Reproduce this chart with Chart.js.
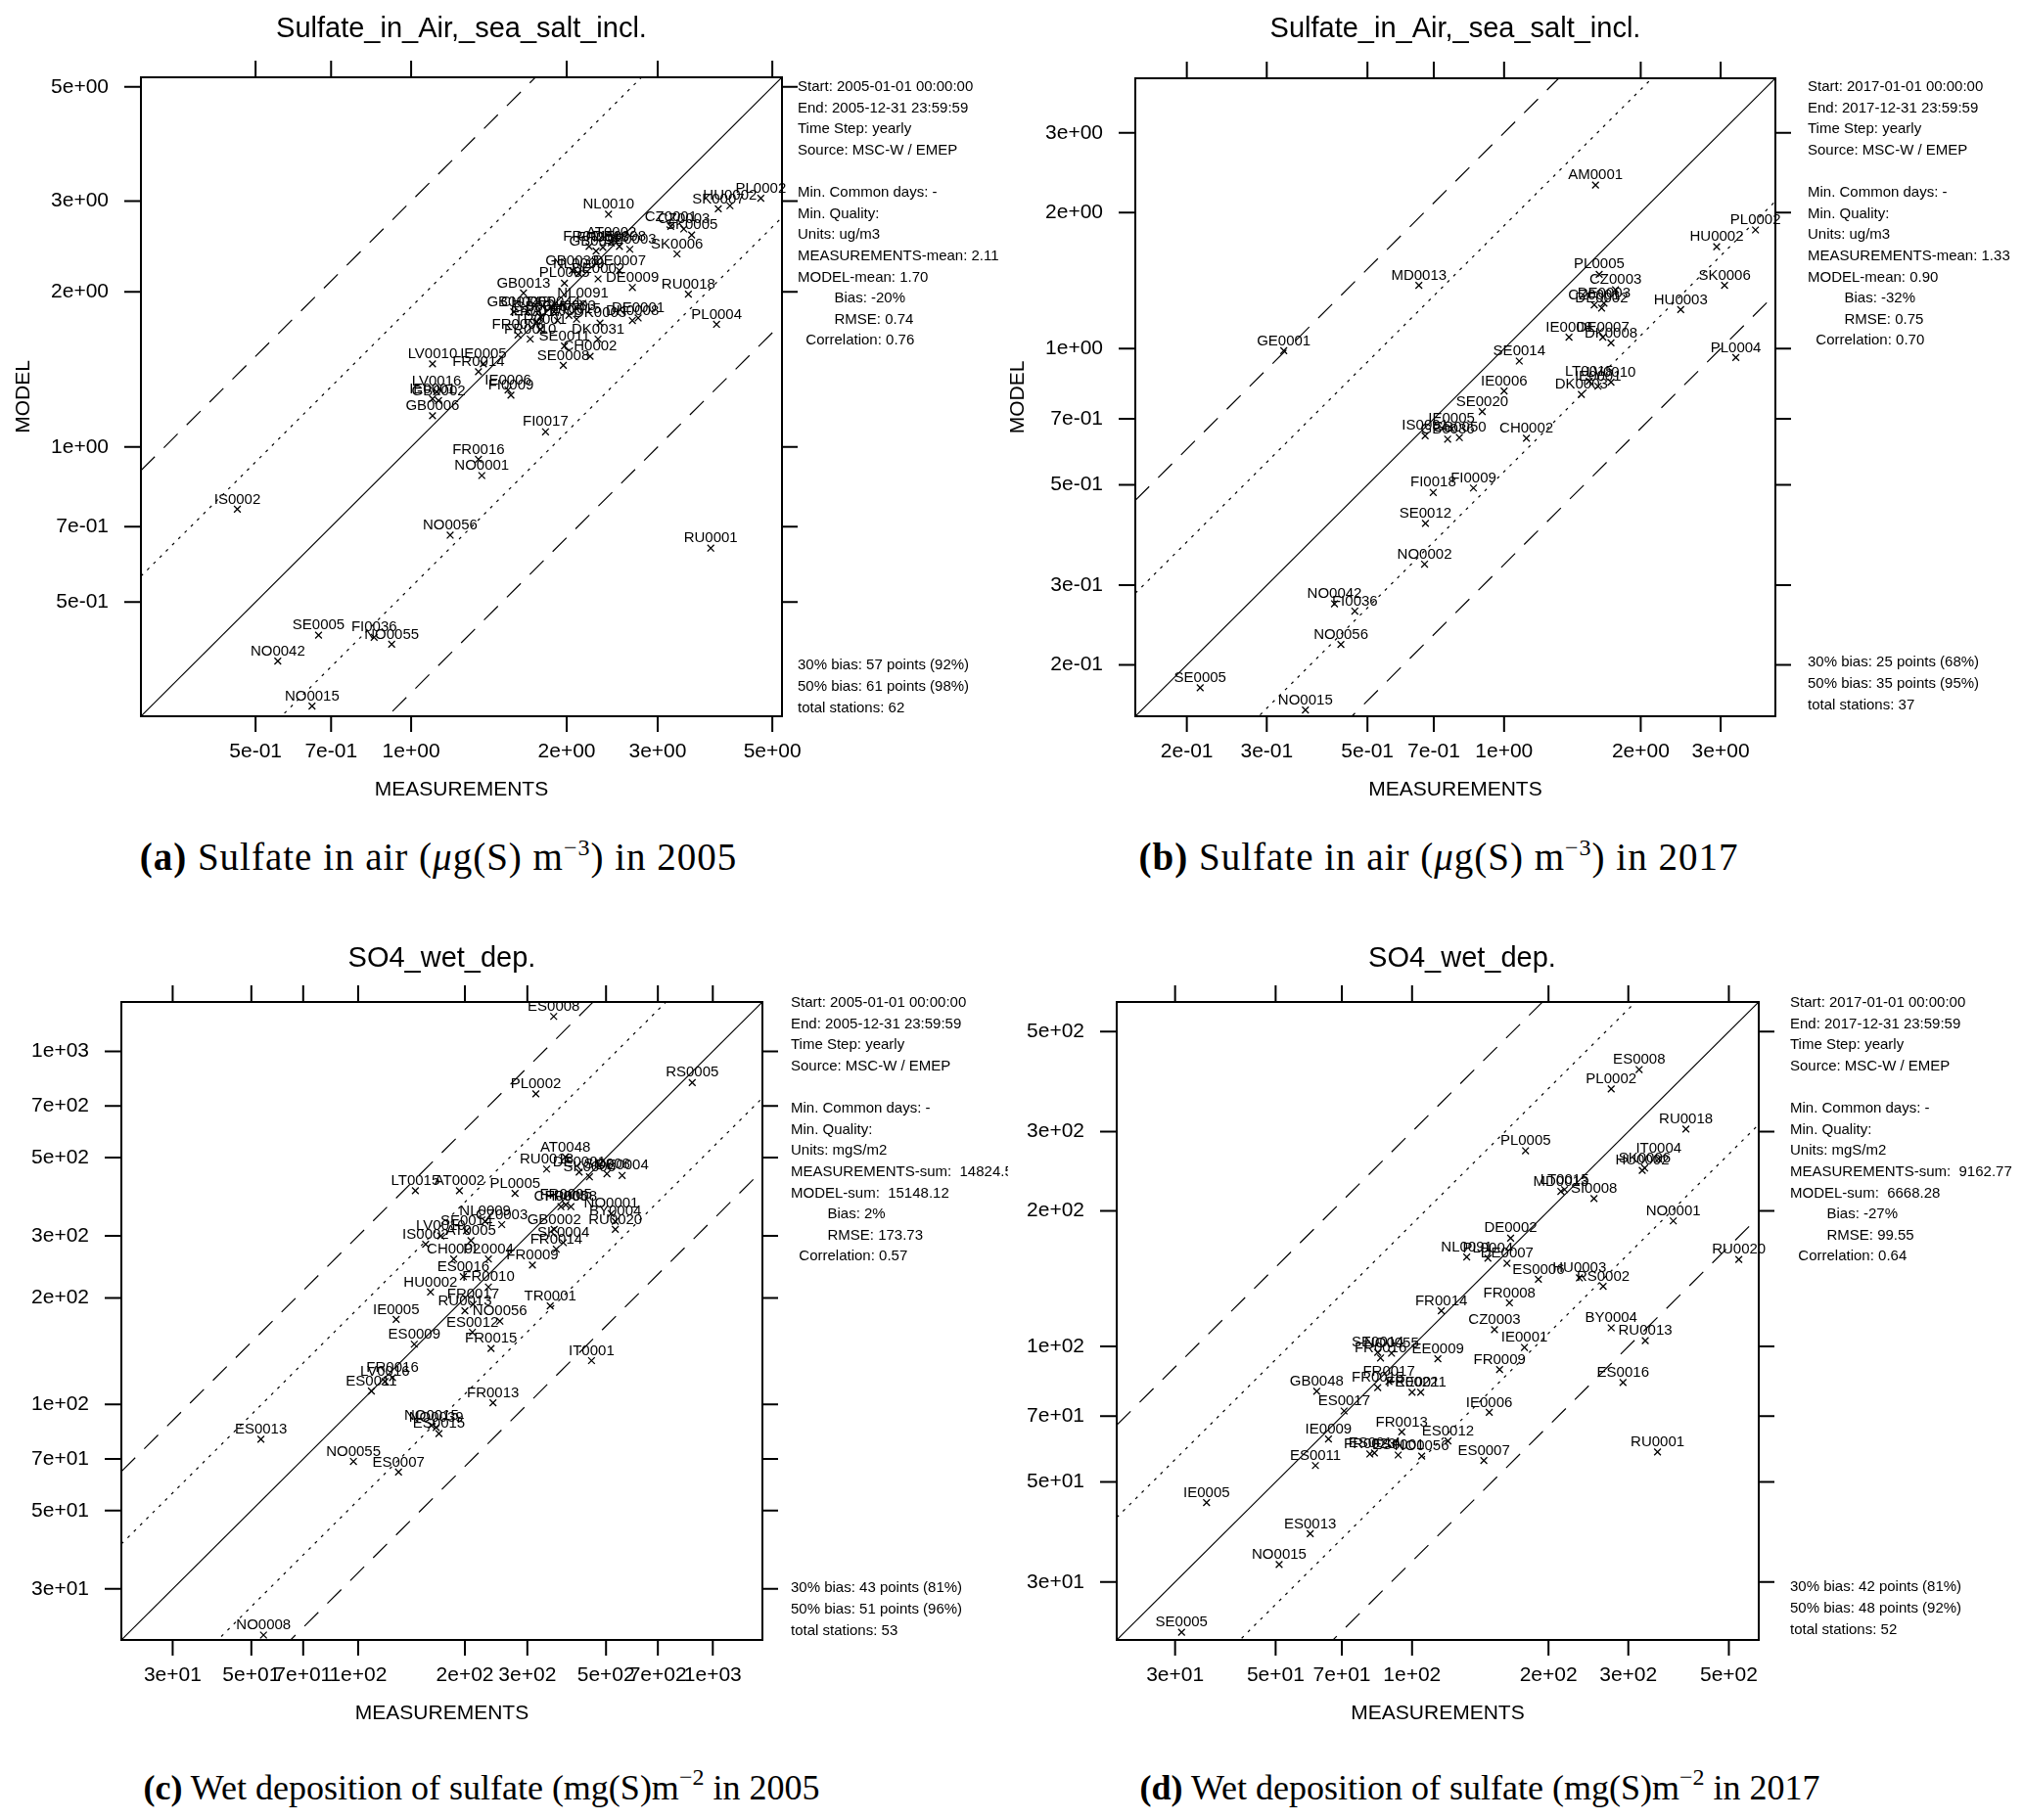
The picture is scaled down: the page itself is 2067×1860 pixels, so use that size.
<!DOCTYPE html>
<html>
<head>
<meta charset="utf-8">
<script src="https://cdn.jsdelivr.net/npm/chart.js@4.4.0/dist/chart.umd.min.js"></script>
<style>
body { margin: 0; background: #fff; }
#page { position: relative; width: 2067px; height: 1860px; overflow: hidden; background: #fff; }
canvas { position: absolute; }
.cap { position: absolute; width: 1000px; text-align: center; font-family: "Liberation Serif", "Times New Roman", serif;
       font-size: 36px; line-height: 44px; color: #000; white-space: nowrap; }
.cap.wide { font-size: 39px; letter-spacing: 1px; }
.cap sup { font-size: 24px; line-height: 0; vertical-align: 15px; }
</style>
</head>
<body>
<div id="page">
  <canvas id="pa" width="1030" height="840" style="left:0;top:0;width:1030px;height:840px"></canvas>
  <canvas id="pb" width="1037" height="840" style="left:1030px;top:0;width:1037px;height:840px"></canvas>
  <canvas id="pc" width="1030" height="850" style="left:0;top:940px;width:1030px;height:850px"></canvas>
  <canvas id="pd" width="1037" height="850" style="left:1030px;top:940px;width:1037px;height:850px"></canvas>
  <div class="cap wide" style="left:-52px;top:854px"><b>(a)</b> Sulfate in air (<i>μ</i>g(S) m<sup>−3</sup>) in 2005</div>
  <div class="cap wide" style="left:970px;top:854px"><b>(b)</b> Sulfate in air (<i>μ</i>g(S) m<sup>−3</sup>) in 2017</div>
  <div class="cap" style="left:-8px;top:1805px"><b>(c)</b> Wet deposition of sulfate (mg(S)m<sup>−2</sup> in 2005</div>
  <div class="cap" style="left:1012px;top:1805px"><b>(d)</b> Wet deposition of sulfate (mg(S)m<sup>−2</sup> in 2017</div>
</div>
<script>
// ---- (a) sulfate in air 2005, ug/m3
const aStations = ['NL0010','PL0002','HU0002','SK0007','CZ0001','CZ0003','SK0005','SK0006','FR0015','GB0036',
  'AT0002','DE0008','DE0003','NL0009','PL0005','DE0002','DE0007','DE0009','GB0013','RU0018',
  'PL0004','GB0014','CH0005','GB0045','DE0044','LT0015','DK0003','DK0008','TR0001','FR0008',
  'SE0011','CH0002','DK0031','SE0008','LV0010','IE0005','FR0014','IE0006','FI0009','LV0016',
  'IE0001','GB0002','GB0006','FI0017','FR0016','NO0001','IS0002','NO0056','RU0001','SE0005',
  'FI0036','NO0055','NO0042','NO0015','FR0013','FR0017','AT0005','CH0003','FR0010','DE0001',
  'GB0038','NL0091'];
const aMeas = [2.41, 4.75, 4.14, 3.93, 3.18, 3.37, 3.49, 3.27, 2.21, 2.28,
  2.44, 2.53, 2.65, 2.11, 1.98, 2.30, 2.53, 2.68, 1.65, 3.44,
  3.90, 1.58, 1.68, 1.78, 1.89, 2.09, 2.32, 2.68, 1.78, 1.61,
  1.98, 2.22, 2.30, 1.97, 1.10, 1.38, 1.35, 1.54, 1.56, 1.12,
  1.10, 1.13, 1.10, 1.82, 1.35, 1.37, 0.461, 1.19, 3.80, 0.662,
  0.848, 0.917, 0.552, 0.643, 2.35, 1.75, 1.92, 2.02, 1.70, 2.75,
  2.05, 2.15];
const aModel = [2.83, 3.04, 2.94, 2.90, 2.68, 2.65, 2.58, 2.37, 2.45, 2.40,
  2.49, 2.45, 2.42, 2.17, 2.08, 2.12, 2.20, 2.04, 1.99, 1.98,
  1.73, 1.83, 1.83, 1.79, 1.83, 1.77, 1.74, 1.76, 1.69, 1.65,
  1.57, 1.50, 1.62, 1.44, 1.45, 1.45, 1.40, 1.29, 1.26, 1.28,
  1.24, 1.23, 1.15, 1.07, 0.946, 0.88, 0.757, 0.674, 0.636, 0.431,
  0.427, 0.414, 0.384, 0.314, 2.44, 1.75, 1.76, 1.80, 1.62, 1.78,
  2.20, 1.90];
const aTicks = [0.5, 0.7, 1, 2, 3, 5];
const aRange = [0.30, 5.22];

// ---- (b) sulfate in air 2017, ug/m3
const bStations = ['SE0005','NO0015','NO0042','FI0036','NO0056','NO0002','SE0012','FI0018','FI0009','CH0002',
  'IS0091','GB0036','GB0050','IE0005','SE0020','IE0006','SE0014','LT0015','LV0010','DK0003',
  'IE0001','DE0007','DK0008','IE0008','HU0003','CZ0001','DE0002','DE0003','SK0006','CZ0003',
  'PL0005','HU0002','PL0002','AM0001','MD0013','GE0001','PL0004'];
const bMeas = [0.214, 0.365, 0.423, 0.469, 0.437, 0.668, 0.671, 0.698, 0.856, 1.12,
  0.670, 0.751, 0.797, 0.766, 0.895, 1.00, 1.08, 1.54, 1.72, 1.48,
  1.61, 1.65, 1.72, 1.39, 2.45, 1.58, 1.64, 1.66, 3.06, 1.76,
  1.62, 2.94, 3.58, 1.59, 0.649, 0.327, 3.24];
const bModel = [0.178, 0.159, 0.273, 0.263, 0.222, 0.334, 0.411, 0.481, 0.492, 0.634,
  0.642, 0.631, 0.636, 0.665, 0.726, 0.806, 0.939, 0.847, 0.843, 0.792,
  0.826, 1.06, 1.03, 1.06, 1.22, 1.25, 1.23, 1.26, 1.38, 1.35,
  1.46, 1.68, 1.83, 2.30, 1.38, 0.99, 0.956];
const bTicks = [0.2, 0.3, 0.5, 0.7, 1, 2, 3];
const bRange = [0.154, 3.96];

// ---- (c) SO4 wet deposition 2005, mgS/m2
const cStations = ['ES0008','PL0002','RS0005','AT0048','RU0018','SK0006','SI0008','DE0004','LT0015','AT0002',
  'PL0005','CH0005','FR0008','NO0001','BY0004','RU0020','NL0009','CZ0003','GB0002','SK0004',
  'FR0014','SE0014','LV0010','IS0002','AT0005','CH0002','PL0004','FR0009','ES0016','FR0010',
  'HU0002','FR0017','RU0013','TR0001','NO0056','IE0005','ES0012','ES0009','FR0015','IT0001',
  'ES0011','LV0016','FR0016','FR0013','NO0015','ES0015','NO0039','ES0013','NO0055','ES0007',
  'NO0008','FR0005','DE0001'];
const cMeas = [356, 317, 875, 384, 340, 449, 503, 555, 145, 193,
  277, 373, 398, 517, 531, 531, 228, 254, 357, 379,
  362, 202, 171, 155, 208, 186, 233, 310, 198, 233,
  160, 211, 200, 348, 251, 128, 210, 144, 237, 455,
  109, 119, 125, 240, 161, 169, 166, 53.2, 97, 130,
  54.1, 385, 420];
const cModel = [1256, 758, 816, 502, 464, 441, 450, 445, 403, 403,
  396, 363, 363, 347, 330, 313, 330, 323, 313, 287,
  275, 310, 300, 284, 291, 258, 258, 248, 230, 215,
  208, 192, 184, 190, 172, 174, 160, 148, 144, 133,
  109, 116, 119, 101, 87.1, 82.6, 86, 79.6, 68.9, 64.3,
  22.2, 368, 455];
const cTicks = [30, 50, 70, 100, 200, 300, 500, 700, 1000];
const cRange = [21.5, 1380];

// ---- (d) SO4 wet deposition 2017, mgS/m2
const dStations = ['SE0005','NO0015','ES0013','IE0005','ES0011','IE0009','FR0023','ES0014','ES0001','NO0056',
  'FR0013','ES0012','ES0007','RU0001','IE0006','ES0017','GB0048','FR0017','FR0022','EE0011',
  'ES0016','FR0009','EE0009','ES0008','PL0002','RU0018','IT0004','SK0006','HU0002','PL0005',
  'LT0015','MD0013','SI0008','NO0001','DE0002','NL0091','PL0004','DE0007','RU0020','ES0006',
  'HU0003','RS0002','FR0008','FR0014','CZ0003','BY0004','RU0013','IE0001','SE0014','NO0055',
  'FR0016','FR0015'];
const dMeas = [31.0, 50.9, 59.6, 35.2, 61.2, 65.4, 80.7, 82.6, 93.2, 105,
  94.9, 120, 144, 348, 148, 70.8, 61.6, 88.9, 100, 104.5,
  292, 156, 114, 317, 275, 402, 350, 326, 322, 178,
  217, 213, 252, 377, 165, 132, 147, 162, 526, 190,
  234, 264, 164, 116, 152, 275, 327, 177, 84, 90.1,
  85.2, 84];
const dModel = [23.2, 32.8, 38.4, 45.0, 54.4, 62.3, 57.7, 58.0, 57.4, 57.1,
  64.6, 61.7, 55.8, 58.3, 71.4, 71.9, 79.5, 83.6, 79.1, 79.1,
  83.2, 88.9, 93.9, 412, 373, 304, 261, 249, 246, 272,
  223, 221, 213, 190, 174, 158, 157, 153, 156, 141,
  142, 136, 125, 120, 109, 110, 103, 99.5, 97, 96.6,
  94.3, 81];
const dTicks = [30, 50, 70, 100, 200, 300, 500];
const dRange = [22.3, 582];

// ratio lines model = factor * measurement
const guideFactors = [3, 1.87, 1, 1 / 1.87, 1 / 3];
const guideDash = [[20, 13], [3, 6], [], [3, 6], [20, 13]];

const aInfo = ['Start: 2005-01-01 00:00:00', 'End: 2005-12-31 23:59:59', 'Time Step: yearly', 'Source: MSC-W / EMEP', '',
  'Min. Common days: -', 'Min. Quality:', 'Units: ug/m3', 'MEASUREMENTS-mean: 2.11', 'MODEL-mean: 1.70',
  '         Bias: -20%', '         RMSE: 0.74', '  Correlation: 0.76'];
const aCounts = ['30% bias: 57 points (92%)', '50% bias: 61 points (98%)', 'total stations: 62'];
const bInfo = ['Start: 2017-01-01 00:00:00', 'End: 2017-12-31 23:59:59', 'Time Step: yearly', 'Source: MSC-W / EMEP', '',
  'Min. Common days: -', 'Min. Quality:', 'Units: ug/m3', 'MEASUREMENTS-mean: 1.33', 'MODEL-mean: 0.90',
  '         Bias: -32%', '         RMSE: 0.75', '  Correlation: 0.70'];
const bCounts = ['30% bias: 25 points (68%)', '50% bias: 35 points (95%)', 'total stations: 37'];
const cInfo = ['Start: 2005-01-01 00:00:00', 'End: 2005-12-31 23:59:59', 'Time Step: yearly', 'Source: MSC-W / EMEP', '',
  'Min. Common days: -', 'Min. Quality:', 'Units: mgS/m2', 'MEASUREMENTS-sum:  14824.5', 'MODEL-sum:  15148.12',
  '         Bias: 2%', '         RMSE: 173.73', '  Correlation: 0.57'];
const cCounts = ['30% bias: 43 points (81%)', '50% bias: 51 points (96%)', 'total stations: 53'];
const dInfo = ['Start: 2017-01-01 00:00:00', 'End: 2017-12-31 23:59:59', 'Time Step: yearly', 'Source: MSC-W / EMEP', '',
  'Min. Common days: -', 'Min. Quality:', 'Units: mgS/m2', 'MEASUREMENTS-sum:  9162.77', 'MODEL-sum:  6668.28',
  '         Bias: -27%', '         RMSE: 99.55', '  Correlation: 0.64'];
const dCounts = ['30% bias: 42 points (81%)', '50% bias: 48 points (92%)', 'total stations: 52'];

const FONT = '"Liberation Sans", Arial, Helvetica, sans-serif';

function fmtTick(v) {
    const e = Math.floor(Math.log10(v) + 1e-9);
    const m = Math.round(v / Math.pow(10, e));
    return m + 'e' + (e < 0 ? '-' : '+') + String(Math.abs(e)).padStart(2, '0');
}

function decorations(p) {
    return {
        id: 'decorations',
        afterDatasetsDraw(chart) {
            const ctx = chart.ctx;
            const area = chart.chartArea;
            const xs = chart.scales.x, ys = chart.scales.y;
            ctx.save();
            ctx.fillStyle = '#000';
            ctx.strokeStyle = '#000';

            // station names above their markers
            ctx.font = '15px ' + FONT;
            ctx.textAlign = 'center';
            ctx.textBaseline = 'middle';
            const meta = chart.getDatasetMeta(chart.data.datasets.length - 1);
            meta.data.forEach((pt, i) => ctx.fillText(p.stations[i], pt.x, pt.y - 10));

            // panel box
            ctx.lineWidth = 2;
            ctx.strokeRect(area.left, area.top, area.right - area.left, area.bottom - area.top);

            // ticks on all four sides, labels left and bottom
            ctx.font = '21px ' + FONT;
            p.ticks.forEach(v => {
                const px = xs.getPixelForValue(v);
                const py = ys.getPixelForValue(v);
                ctx.beginPath();
                ctx.moveTo(px, area.bottom); ctx.lineTo(px, area.bottom + 16);
                ctx.moveTo(px, area.top); ctx.lineTo(px, area.top - 17);
                ctx.moveTo(area.left, py); ctx.lineTo(area.left - 17, py);
                ctx.moveTo(area.right, py); ctx.lineTo(area.right + 16, py);
                ctx.stroke();
                ctx.textAlign = 'center';
                ctx.fillText(fmtTick(v), px, area.bottom + 36);
                ctx.textAlign = 'right';
                ctx.fillText(fmtTick(v), area.left - 33, py);
            });

            // titles
            const cx = (area.left + area.right) / 2;
            ctx.textAlign = 'center';
            ctx.font = '29px ' + FONT;
            ctx.fillText(p.title, cx + p.titleShift, p.titleY);
            ctx.font = '21px ' + FONT;
            ctx.fillText('MEASUREMENTS', cx, area.bottom + 75);
            if (p.showModel) {
                ctx.save();
                ctx.translate(area.left - 120, (area.top + area.bottom) / 2);
                ctx.rotate(-Math.PI / 2);
                ctx.fillText('MODEL', 0, 0);
                ctx.restore();
            }

            // statistics text at the right
            ctx.font = '15px ' + FONT;
            ctx.textAlign = 'left';
            p.info.forEach((s, i) => ctx.fillText(s, p.textX, p.infoY + i * 21.6));
            p.counts.forEach((s, i) => ctx.fillText(s, p.textX, p.countsY + i * 22));
            ctx.restore();
        }
    };
}

function makePanel(p) {
    const guides = guideFactors.map((f, i) => ({
        type: 'line',
        data: [{x: p.range[0], y: p.range[0] * f}, {x: p.range[1], y: p.range[1] * f}],
        borderColor: '#000',
        borderWidth: 1.2,
        borderDash: guideDash[i],
        pointRadius: 0,
        fill: false
    }));
    const points = {
        type: 'scatter',
        data: p.meas.map((m, i) => ({x: m, y: p.model[i]})),
        pointStyle: 'crossRot',
        pointRadius: 4.8,
        pointBorderWidth: 1.3,
        borderColor: '#000',
        backgroundColor: '#000',
        showLine: false
    };
    new Chart(document.getElementById(p.id), {
        type: 'scatter',
        data: {datasets: guides.concat([points])},
        options: {
            responsive: false,
            animation: false,
            devicePixelRatio: 1,
            events: [],
            layout: {padding: p.pad},
            plugins: {legend: {display: false}, tooltip: {enabled: false}},
            scales: {
                x: {type: 'logarithmic', min: p.range[0], max: p.range[1], display: false},
                y: {type: 'logarithmic', min: p.range[0], max: p.range[1], display: false}
            }
        },
        plugins: [decorations(p)]
    });
}

makePanel({id: 'pa', stations: aStations, meas: aMeas, model: aModel, ticks: aTicks, range: aRange,
    pad: {left: 144, top: 79, right: 231, bottom: 108}, title: 'Sulfate_in_Air,_sea_salt_incl.', titleY: 30, titleShift: 0,
    showModel: true, info: aInfo, counts: aCounts, textX: 815, infoY: 89, countsY: 680});
makePanel({id: 'pb', stations: bStations, meas: bMeas, model: bModel, ticks: bTicks, range: bRange,
    pad: {left: 130, top: 80, right: 253, bottom: 108}, title: 'Sulfate_in_Air,_sea_salt_incl.', titleY: 30, titleShift: 0,
    showModel: true, info: bInfo, counts: bCounts, textX: 817, infoY: 89, countsY: 677});
makePanel({id: 'pc', stations: cStations, meas: cMeas, model: cModel, ticks: cTicks, range: cRange,
    pad: {left: 124, top: 84, right: 251, bottom: 114}, title: 'SO4_wet_dep.', titleY: 40, titleShift: 0,
    showModel: false, info: cInfo, counts: cCounts, textX: 808, infoY: 85, countsY: 683});
makePanel({id: 'pd', stations: dStations, meas: dMeas, model: dModel, ticks: dTicks, range: dRange,
    pad: {left: 111, top: 84, right: 270, bottom: 114}, title: 'SO4_wet_dep.', titleY: 40, titleShift: 25,
    showModel: false, info: dInfo, counts: dCounts, textX: 799, infoY: 85, countsY: 682});
</script>
</body>
</html>
